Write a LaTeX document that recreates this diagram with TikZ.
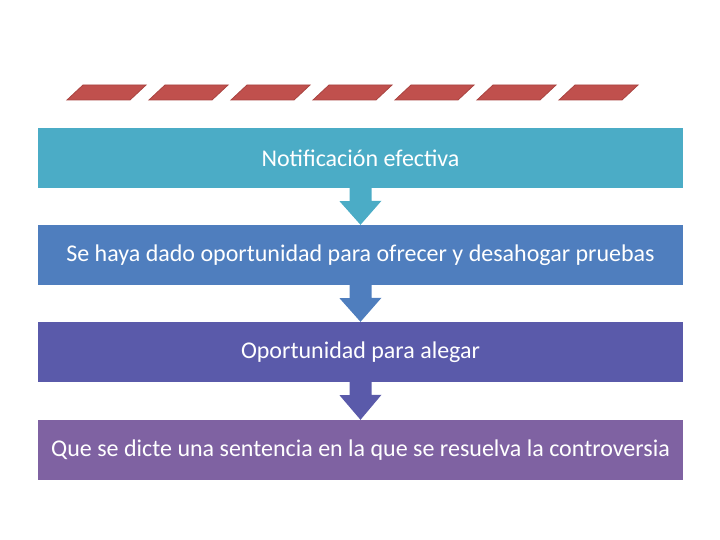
\documentclass[tikz,border=0pt]{standalone}
\usepackage{fontspec}
\setmainfont{Carlito}
\definecolor{tealA}{HTML}{4BACC6}
\definecolor{blueB}{HTML}{4F7EBE}
\definecolor{indigoC}{HTML}{5A5AAA}
\definecolor{violetD}{HTML}{7F62A2}
\definecolor{slabred}{HTML}{C0504D}
\definecolor{slabedge}{HTML}{A94441}

\begin{document}
\begin{tikzpicture}[
        x=1pt, y=-1pt,
        step box/.style={
            minimum width=645pt,
            minimum height=60pt,
            inner sep=0pt,
            text=white,
            font=\fontsize{24}{28}\selectfont
        },
        slab/.style={fill=slabred, draw=slabedge, line width=0.8pt}
    ]
    \useasboundingbox (0,0) rectangle (720,540);

    % red slabs on top
    \foreach \i in {0,...,6}
        \filldraw[slab] (67+82*\i,100) -- (130+82*\i,100) -- (146+82*\i,85) -- (83+82*\i,85) -- cycle;

    \node[step box, fill=tealA]   (notif)  at (360.5,158) {Notificación efectiva};
    \node[step box, fill=blueB]   (pruebas) at (360.5,255) {Se haya dado oportunidad para ofrecer y desahogar pruebas};
    \node[step box, fill=indigoC] (alegar) at (360.5,352) {Oportunidad para alegar};
    \node[step box, fill=violetD] (sentencia) at (360.5,450) {Que se dicte una sentencia en la que se resuelva la controversia};

    \fill[tealA] (notif.south) ++(-11,0) -- ++(0,13) -- ++(-10,0) -- (pruebas.north)
        -- ++(21,-24) -- ++(-10,0) -- ++(0,-13) -- cycle;
    \fill[blueB] (pruebas.south) ++(-11,0) -- ++(0,13) -- ++(-10,0) -- (alegar.north)
        -- ++(21,-24) -- ++(-10,0) -- ++(0,-13) -- cycle;
    \fill[indigoC] (alegar.south) ++(-11,0) -- ++(0,13) -- ++(-10,0) -- (sentencia.north)
        -- ++(21,-25) -- ++(-10,0) -- ++(0,-13) -- cycle;
\end{tikzpicture}
\end{document}
